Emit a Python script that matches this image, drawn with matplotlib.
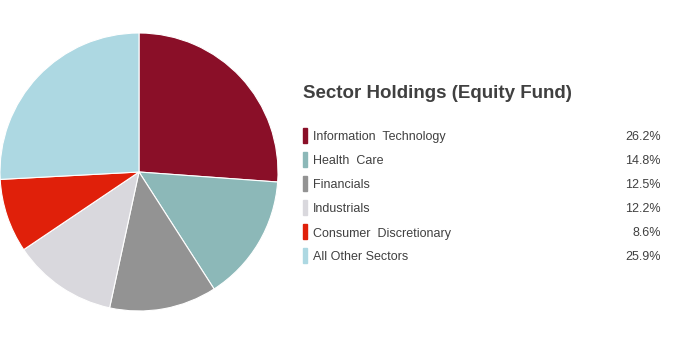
import matplotlib.pyplot as plt

sectors = ["Information  Technology", "Health  Care", "Financials", "Industrials",
           "Consumer  Discretionary", "All Other Sectors"]
weights = [26.2, 14.8, 12.5, 12.2, 8.6, 25.9]
colors = ["#8a0f28", "#8cb8b8", "#939393", "#d9d8dd", "#e0200a", "#add8e2"]
title = "Sector Holdings (Equity Fund)"

plt.rcParams['font.family'] = ['Liberation Sans', 'DejaVu Sans']

W, H = 693, 345
fig = plt.figure(figsize=(W / 100, H / 100), dpi=100)

# pie: centre (139, 172) px, radius 139 px
cx, cy, r = 139, 172, 139
ax = fig.add_axes([(cx - r) / W, 1 - (cy + r) / H, 2 * r / W, 2 * r / H])
ax.pie(weights, colors=colors, startangle=90, counterclock=False,
       wedgeprops=dict(edgecolor="white", linewidth=0.8))
ax.set_xlim(-1, 1)
ax.set_ylim(-1, 1)
ax.set_aspect("auto")
ax.axis("off")

# legend drawn as text rows (positions in px from top-left)
fig.text(303 / W, 1 - 98.5 / H, title, fontsize=13.5, fontweight="bold",
         color="#404040", va="baseline", ha="left")

row0, step = 140.5, 24
for i, (name, w, c) in enumerate(zip(sectors, weights, colors)):
    base = row0 + i * step
    fig.patches.append(plt.Rectangle((303 / W, 1 - (base + 2) / H), 4 / W, 15 / H,
                                     transform=fig.transFigure, color=c))
    fig.text(313 / W, 1 - base / H, name, fontsize=9, color="#404040",
             va="baseline", ha="left")
    fig.text(661 / W, 1 - base / H, f"{w:.1f}%", fontsize=9, color="#404040",
             va="baseline", ha="right")

fig.savefig("out.png", dpi=100, facecolor="white")
